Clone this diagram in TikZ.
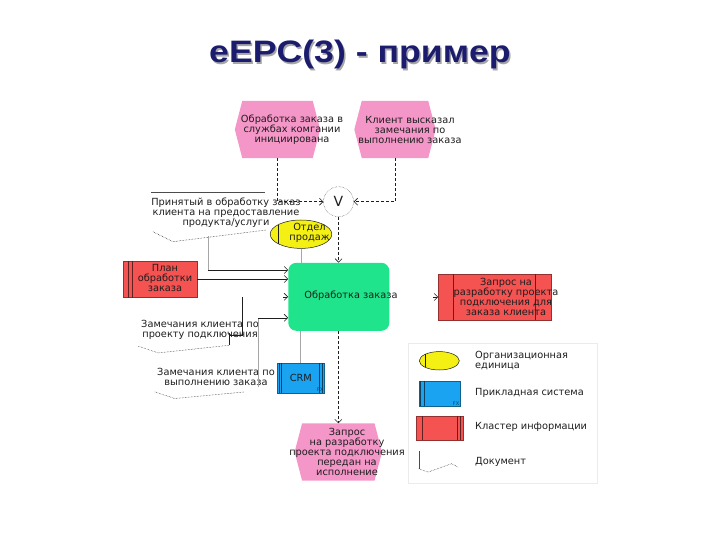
\documentclass[tikz,border=0pt]{standalone}
\usepackage{fontspec}
\setmainfont{DejaVu Sans}
\newfontfamily\titlefont{Liberation Sans}[FakeStretch=1.15]
\usetikzlibrary{arrows.meta, positioning, calc, shapes.geometric}
\definecolor{mydark}{RGB}{30,30,30}
\definecolor{titlenavy}{RGB}{28,28,110}
\definecolor{evpink}{RGB}{245,150,200}
\definecolor{fngreen}{RGB}{32,228,140}
\definecolor{clred}{RGB}{245,82,82}
\definecolor{sysblue}{RGB}{25,163,240}
\definecolor{orgyellow}{RGB}{245,240,20}
\tikzset{
  lbl/.style={font=\fontsize{9.8}{10}\selectfont, text=mydark, align=center, inner sep=0pt},
  evbox/.style={rectangle, minimum height=57pt, inner sep=0pt},
  func/.style={rectangle, rounded corners=8pt, fill=fngreen, inner sep=0pt},
  org/.style={ellipse, draw=mydark, fill=orgyellow, line width=0.5pt, inner sep=0pt},
  sys/.style={rectangle, draw=sysblue!60!black, fill=sysblue, line width=0.4pt, inner sep=0pt,
    font=\fontsize{9.8}{10}\selectfont, text=mydark},
  cl/.style={rectangle, draw=clred!60!black, fill=clred, line width=0.4pt, inner sep=0pt},
  docbox/.style={rectangle, inner sep=0pt},
  xor/.style={circle, draw=mydark, densely dotted, minimum size=30pt, inner sep=0pt,
    font=\fontsize{14}{14}\selectfont, text=mydark},
  ctrl/.style={-{Straight Barb[length=3.5pt,width=7pt]}, densely dashed, color=mydark, line width=0.6pt},
  info/.style={-{Straight Barb[length=3.5pt,width=7pt]}, color=mydark, line width=0.6pt},
  infoline/.style={color=mydark, line width=0.6pt},
  assign/.style={color=gray!70, line width=0.8pt},
  docwave/.style={densely dotted, color=mydark, line width=0.5pt},
  doctop/.style={color=gray!60!black, line width=0.6pt},
  fxtag/.style={font=\fontsize{5}{5}\selectfont, text=sysblue!40!black, inner sep=0.8pt},
  legframe/.style={rectangle, draw=black!8, line width=0.6pt},
  titletext/.style={font=\titlefont\fontsize{31}{31}\selectfont\bfseries, text=titlenavy},
  titleshadow/.style={titletext, text=black!35}
}
\begin{document}
\begin{tikzpicture}[x=1pt, y=-1pt]
  \useasboundingbox (0,0) rectangle (720,540);

  % Title
  \node[titleshadow, anchor=base] (title-shadow) at (361.5,64.5) {eEPC(3) - пример};
  \node[titletext, anchor=base] (title) at (360,63) {eEPC(3) - пример};

  % Events
  \node[evbox, minimum width=85pt] (e1) at (277.5,129.5) {};
  \node[evbox, minimum width=81pt] (e2) at (395,129.5) {};
  \node[evbox, minimum width=87pt] (e3) at (338.3,452) {};
  \foreach \e in {e1,e2,e3}
    \fill[evpink] (\e.west) -- ([xshift=7.5pt]\e.north west) -- ([xshift=-7.5pt]\e.north east)
      -- (\e.east) -- ([xshift=-7.5pt]\e.south east) -- ([xshift=7.5pt]\e.south west) -- cycle;
  \node[lbl] (e1-text) at (292,130) {Обработка заказа в\\службах комгании\\инициирована};
  \node[lbl] (e2-text) at (410,130) {Клиент высказал\\замечания по\\выполнению заказа};
  \node[lbl] (e3-text) at (347,452) {Запрос\\на разработку\\проекта подключения\\передан на\\исполнение};

  % Rule
  \node[xor] (v) at (338.5,201.7) {V};

  % Function
  \node[func, minimum width=101pt, minimum height=68pt] (fn) at (338.8,296.8) {};
  \node[lbl] (fn-text) at (351,296) {Обработка заказа};

  % Org unit
  \node[org, minimum width=61.6pt, minimum height=28.4pt] (org) at (301,234.2) {};
  \draw[mydark, line width=0.5pt] ([xshift=-22.7pt,yshift=9.6pt]org.center) -- ([xshift=-22.7pt,yshift=-9.6pt]org.center);
  \node[lbl] (org-text) at (309.5,233) {Отдел\\продаж};

  % Application system
  \node[sys, minimum width=47pt, minimum height=29.4pt] (crm) at (300.8,378) {CRM};
  \foreach \dx in {2,4.4}
    \draw[sysblue!40!black, line width=0.4pt] ([xshift=\dx pt]crm.north west) -- ([xshift=\dx pt]crm.south west);
  \foreach \dx in {-5,-2.6}
    \draw[sysblue!40!black, line width=0.4pt] ([xshift=\dx pt]crm.north east) -- ([xshift=\dx pt]crm.south east);
  \node[fxtag, anchor=south east] (crm-fx) at (crm.south east) {FX};

  % Information clusters
  \node[cl, minimum width=73.4pt, minimum height=36.6pt] (plan) at (160,279) {};
  \foreach \dx in {5,9.4}
    \draw[clred!40!black, line width=0.4pt] ([xshift=\dx pt]plan.north west) -- ([xshift=\dx pt]plan.south west);
  \node[lbl] (plan-text) at (165,278) {План\\обработки\\заказа};

  \node[cl, minimum width=112.4pt, minimum height=46pt] (req) at (494.5,297) {};
  \draw[clred!40!black, line width=0.4pt] ([xshift=15pt]req.north west) -- ([xshift=15pt]req.south west);
  \draw[clred!40!black, line width=0.4pt] ([xshift=-15.7pt]req.north east) -- ([xshift=-15.7pt]req.south east);
  \node[lbl] (req-text) at (506,296.7) {Запрос на\\разработку проекта\\подключения для\\заказа клиента};

  % Documents
  \node[docbox, minimum width=113pt, minimum height=39pt] (doc1) at (208,212) {};
  \draw[doctop] (doc1.north west) -- (doc1.north east);
  \draw[docwave] ([xshift=1.6pt]doc1.south west) -- ++(20,10) -- ++(93.4,-11.7);
  \node[lbl] (doc1-text) at (226,212.5) {Принятый в обработку заказ\\клиента на предоставление\\продукта/услуги};

  \node[docbox, minimum width=91pt, minimum height=32pt] (doc2) at (184,330) {};
  \draw[infoline] ([yshift=-3pt]doc2.east) -- ([yshift=1pt]doc2.south east);
  \draw[docwave] (doc2.south west) -- ++(20,6.7) -- ++(71.5,-7.7);
  \node[lbl] (doc2-text) at (200,330) {Замечания клиента по\\проекту подключения};

  \node[docbox, minimum width=105pt, minimum height=33.4pt] (doc3) at (207.5,375) {};
  \draw[docwave] (doc3.south west) -- ++(20,6.6) -- ++(70,-6.6);
  \node[lbl] (doc3-text) at (216,376.7) {Замечания клиента по\\выполнению заказа};

  % Control flow
  \draw[ctrl] (e1.south) |- (v.west);
  \draw[ctrl] (e2.south) |- (v.east);
  \draw[ctrl] (v.south) -- (v.south |- fn.north);
  \draw[ctrl] (e3.north |- fn.south) -- (e3.north);

  % Assignments
  \draw[assign] (org.south) -- (org.south |- fn.north);
  \draw[assign] (crm.north) -- (crm.north |- fn.south);

  % Information flow
  \coordinate (c1) at ($(doc1.south |- fn.west)+(0,-26.8)$);
  \draw[assign] ([yshift=-4pt]doc1.south) -- (c1);
  \draw[info] (c1) -- (c1 -| fn.west);
  \draw[info] (plan.east) -- (plan.east -| fn.west);
  \draw[infoline] ([yshift=-5pt]doc2.east) -- ++(12.4,0) coordinate (c2) -- (c2 |- fn.west);
  \draw[info] ([xshift=-5pt]fn.west) -- (fn.west);
  \coordinate (d3) at ([xshift=-2.3pt,yshift=5pt]doc3.south east);
  \coordinate (c3) at ($(d3 |- fn.west)+(0,21)$);
  \draw[assign] (d3) -- (c3);
  \draw[info] (c3) -- (c3 -| fn.west);
  \draw[info] ([xshift=-5pt]req.west) -- (req.west);

  % Legend
  \node[legframe, minimum width=189pt, minimum height=140pt] (legend) at (502.5,413) {};
  \node[org, minimum width=40pt, minimum height=18.4pt] (lg-org) at (439.3,360.8) {};
  \draw[mydark, line width=0.5pt] ([xshift=-14.3pt,yshift=6.4pt]lg-org.center) -- ([xshift=-14.3pt,yshift=-6.4pt]lg-org.center);
  \node[lbl, anchor=west, align=left] (lg-org-text) at (475,361) {Организационная\\единица};

  \node[sys, minimum width=40.7pt, minimum height=25.3pt] (lg-sys) at (439.7,393.4) {};
  \foreach \dx in {1.4,4.7}
    \draw[sysblue!40!black, line width=0.4pt] ([xshift=\dx pt]lg-sys.north west) -- ([xshift=\dx pt]lg-sys.south west);
  \node[fxtag, anchor=south east] (lg-sys-fx) at (lg-sys.south east) {FX};
  \node[lbl, anchor=west] (lg-sys-text) at (475,393.3) {Прикладная система};

  \node[cl, minimum width=47.3pt, minimum height=23.3pt] (lg-cl) at (439.7,428.3) {};
  \draw[clred!40!black, line width=0.4pt] ([xshift=6.7pt]lg-cl.north west) -- ([xshift=6.7pt]lg-cl.south west);
  \foreach \dx in {-6.6,-3.3}
    \draw[clred!40!black, line width=0.4pt] ([xshift=\dx pt]lg-cl.north east) -- ([xshift=\dx pt]lg-cl.south east);
  \node[lbl, anchor=west] (lg-cl-text) at (475,426.7) {Кластер информации};

  \node[docbox, minimum width=40pt, minimum height=17pt] (lg-doc) at (439,460) {};
  \draw[doctop] (lg-doc.north west) -- (lg-doc.south west);
  \draw[docwave] (lg-doc.south west) -- ++(9.3,3.4) -- ++(23.4,-8.4) -- ++(6.6,3.4);
  \node[lbl, anchor=west] (lg-doc-text) at (475,461.7) {Документ};
\end{tikzpicture}
\end{document}
